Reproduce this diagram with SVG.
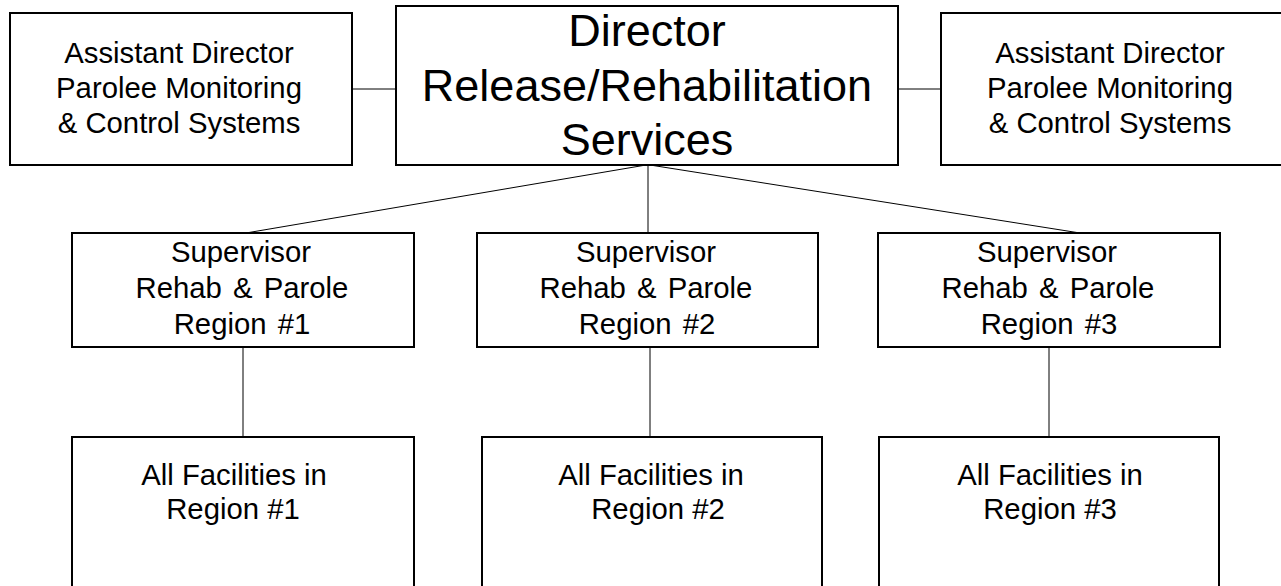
<svg xmlns="http://www.w3.org/2000/svg" width="1281" height="586" viewBox="0 0 1281 586">
<style>
.box{fill:#fff;stroke:#000;stroke-width:2}
.con{fill:none;stroke:#000;stroke-width:1}
text{font-family:"Liberation Sans",Arial,sans-serif;fill:#000;text-anchor:middle}
.big{font-size:45px}
.sm{font-size:29.3px}
</style>
<rect width="1281" height="586" fill="#fff"/>
<g id="connectors">
<line class="con" x1="352" y1="89" x2="396" y2="89"/>
<line class="con" x1="898" y1="89" x2="941" y2="89"/>
<path class="con" d="M648 165 V235 H655"/>
<line class="con" x1="646" y1="165" x2="246" y2="233"/>
<line class="con" x1="650" y1="165" x2="1080" y2="233"/>
<line class="con" x1="243" y1="347" x2="243" y2="437"/>
<line class="con" x1="650" y1="347" x2="650" y2="437"/>
<line class="con" x1="1049" y1="347" x2="1049" y2="437"/>
</g>
<g id="asst-left">
<rect class="box" x="10" y="13" width="342" height="152"/>
<text class="sm" x="179" y="63">Assistant Director</text>
<text class="sm" x="179" y="98">Parolee Monitoring</text>
<text class="sm" x="179" y="133">&amp; Control Systems</text>
</g>
<g id="director">
<rect class="box" x="396" y="6" width="502" height="159"/>
<text class="big" x="647" y="46">Director</text>
<text class="big" x="647" y="101">Release/Rehabilitation</text>
<text class="big" x="647" y="155">Services</text>
</g>
<g id="asst-right">
<rect class="box" x="941" y="13" width="345" height="152"/>
<text class="sm" x="1110" y="63">Assistant Director</text>
<text class="sm" x="1110" y="98">Parolee Monitoring</text>
<text class="sm" x="1110" y="133">&amp; Control Systems</text>
</g>
<g id="sup1">
<rect class="box" x="72" y="233" width="342" height="114"/>
<text class="sm" x="241" y="262">Supervisor</text>
<text class="sm" x="242" y="298" word-spacing="3">Rehab &amp; Parole</text>
<text class="sm" x="242" y="334" word-spacing="3">Region #1</text>
</g>
<g id="sup2">
<rect class="box" x="477" y="233" width="341" height="114"/>
<text class="sm" x="646" y="262">Supervisor</text>
<text class="sm" x="646" y="298" word-spacing="3">Rehab &amp; Parole</text>
<text class="sm" x="647" y="334" word-spacing="3">Region #2</text>
</g>
<g id="sup3">
<rect class="box" x="878" y="233" width="342" height="114"/>
<text class="sm" x="1047" y="262">Supervisor</text>
<text class="sm" x="1048" y="298" word-spacing="3">Rehab &amp; Parole</text>
<text class="sm" x="1049" y="334" word-spacing="3">Region #3</text>
</g>
<g id="fac1">
<rect class="box" x="72" y="437" width="342" height="170"/>
<text class="sm" x="234" y="485">All Facilities in</text>
<text class="sm" x="233" y="519">Region #1</text>
</g>
<g id="fac2">
<rect class="box" x="482" y="437" width="340" height="170"/>
<text class="sm" x="651" y="485">All Facilities in</text>
<text class="sm" x="658" y="519">Region #2</text>
</g>
<g id="fac3">
<rect class="box" x="879" y="437" width="340" height="170"/>
<text class="sm" x="1050" y="485">All Facilities in</text>
<text class="sm" x="1050" y="519">Region #3</text>
</g>
</svg>
